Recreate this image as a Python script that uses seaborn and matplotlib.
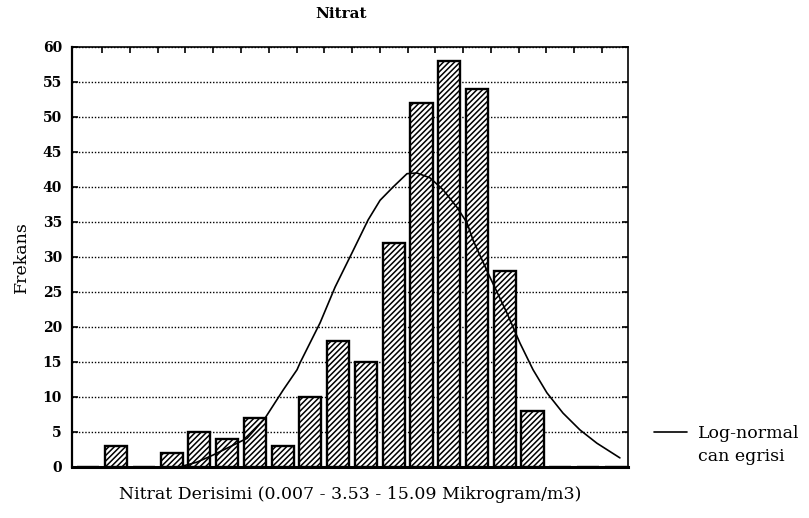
import matplotlib
matplotlib.use("Agg")
import matplotlib.pyplot as plt
from matplotlib.lines import Line2D
import seaborn as sns
import pandas as pd

# Histogram bins (class index) and frequencies
bins = list(range(20))
frequencies = [0, 3, 0, 2, 5, 4, 7, 3, 10, 18, 15, 32, 52, 58, 54, 28, 8, 0, 0, 0]

# Fitted log-normal curve, sampled along the class axis
curve_x = [3.30, 3.41, 3.92, 4.49, 5.21, 5.72, 6.37, 7.02, 7.52, 7.63, 8.35, 8.89,
           9.50, 10.08, 10.51, 10.98, 11.48, 11.84, 12.31, 12.78, 13.28, 13.64,
           13.86, 14.47, 15.08, 15.55, 16.02, 16.52, 17.10, 17.71, 18.32, 19.15]
curve_y = [0.0, 0.14, 0.7, 1.7, 3.1, 4.1, 7.0, 11.0, 13.9, 14.9, 20.6, 25.7,
           30.6, 35.3, 38.1, 40.0, 41.9, 42.0, 41.3, 39.6, 37.1, 34.9,
           32.4, 27.1, 22.0, 17.7, 13.9, 10.6, 7.7, 5.3, 3.4, 1.3]

y_ticks = list(range(0, 61, 5))

title_text = "Nitrat"
x_label = "Nitrat Derisimi (0.007 - 3.53 - 15.09 Mikrogram/m3)"
y_label = "Frekans"
legend_lines = ["Log-normal", "can egrisi"]

sns.set_theme(style="white")
plt.rcParams["font.family"] = ["DejaVu Serif"]
plt.rcParams["hatch.linewidth"] = 1.1
plt.rcParams["text.color"] = "black"
plt.rcParams["axes.labelcolor"] = "black"
plt.rcParams["ytick.color"] = "black"
plt.rcParams["xtick.color"] = "black"

bars_df = pd.DataFrame({"bin": bins, "freq": frequencies})
curve_df = pd.DataFrame({"x": curve_x, "y": curve_y})

fig = plt.figure(figsize=(8.09, 5.18), dpi=100)
ax = fig.add_axes([0.0886, 0.0985, 0.6876, 0.8108])

# Hatched bars on a numeric axis
ax.bar(bars_df["bin"], bars_df["freq"], width=0.8, facecolor="white",
       edgecolor="black", linewidth=1.7, hatch="//////", zorder=3)

sns.lineplot(data=curve_df, x="x", y="y", ax=ax, color="black",
             linewidth=1.2, zorder=4, sort=False, legend=False)

ax.set_xlim(-0.6, 19.44)
ax.set_ylim(0, 60)
ax.set_yticks(y_ticks)
ax.set_yticklabels([str(t) for t in y_ticks], fontsize=10, fontweight="bold")

# Dotted horizontal grid behind the bars
ax.yaxis.grid(True, linestyle=(0, (1, 1.3)), color="black", linewidth=1.0, zorder=0)
ax.xaxis.grid(False)
ax.set_axisbelow(True)

ax.set_xticks([k + 0.5 for k in range(19)])
ax.set_xticklabels([])
ax.tick_params(axis="x", which="both", direction="in", length=4, width=1.2,
               top=True, bottom=False, labelbottom=False, color="black")
ax.tick_params(axis="y", which="both", direction="in", length=4, width=1.2,
               left=True, right=True, color="black", labelcolor="black", pad=7)

for side in ["left", "right", "top", "bottom"]:
    ax.spines[side].set_visible(True)
    ax.spines[side].set_color("black")
ax.spines["left"].set_linewidth(1.6)
ax.spines["bottom"].set_linewidth(2.2)
ax.spines["top"].set_linewidth(1.2)
ax.spines["right"].set_linewidth(1.2)

ax.set_xlabel(x_label, fontsize=12.5, labelpad=14, color="black")
ax.set_ylabel(y_label, fontsize=12.5, labelpad=9, color="black")
fig.text(341 / 809, 1 - 14 / 518, title_text, fontsize=11, fontweight="bold",
         ha="center", va="center", color="black")

# Legend: curve sample beside the first line, plain second line
handles = [Line2D([], [], color="black", linewidth=1.2),
           Line2D([], [], color="none", linewidth=0)]
leg = ax.legend(handles, legend_lines, loc="upper left",
                bbox_to_anchor=(645 / 809, 1 - 416 / 518), bbox_transform=fig.transFigure,
                frameon=False, fontsize=12.5, handlelength=1.9, handletextpad=0.65,
                labelspacing=0.35, borderpad=0.0)
for t in leg.get_texts():
    t.set_color("black")

fig.savefig("out.png", dpi=100, facecolor="white")
